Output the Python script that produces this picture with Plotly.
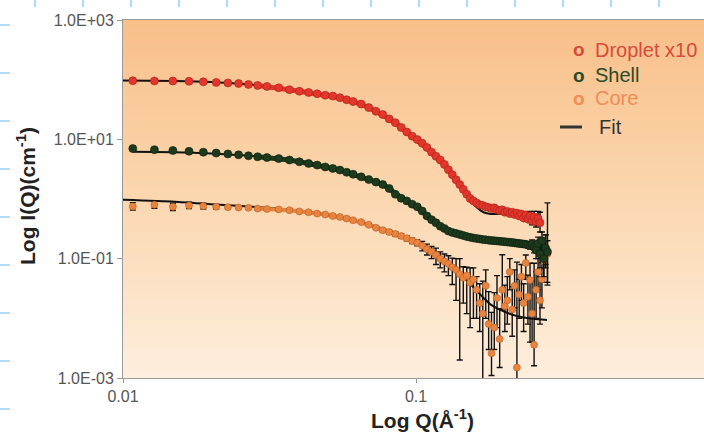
import plotly.graph_objects as go

# ---------------- data ----------------
q = [0.0108, 0.0128, 0.0148, 0.0168, 0.0188, 0.0208, 0.0228, 0.0248, 0.0268, 0.0288,
     0.031, 0.034, 0.037,
     0.040, 0.043, 0.046, 0.049, 0.052, 0.055, 0.058, 0.061,
     0.065, 0.069, 0.073, 0.077, 0.081, 0.085, 0.089, 0.093, 0.097, 0.101,
     0.105, 0.109, 0.113, 0.117, 0.121, 0.125, 0.129, 0.133, 0.137, 0.141,
     0.145, 0.149, 0.153, 0.157, 0.161, 0.165, 0.169, 0.173, 0.177, 0.181,
     0.185, 0.189, 0.193, 0.197, 0.201, 0.205, 0.209, 0.213, 0.217, 0.221,
     0.225, 0.229, 0.233, 0.237, 0.241, 0.245, 0.249, 0.253, 0.257, 0.261,
     0.265, 0.269, 0.273, 0.277, 0.281]

droplet_x10 = [96, 95, 95, 94, 92, 90, 88, 86, 83, 80,
               77, 73, 68,
               64, 61, 58, 55, 53, 50, 46, 43,
               39, 34, 29.5, 26, 22, 19, 15.8, 13.3, 11.3, 9.9,
               8.6, 7.3, 6.1, 5.2, 4.5, 3.8, 3.1, 2.55, 2.1, 1.75,
               1.45, 1.2, 1.02, 0.93, 0.86, 0.80, 0.78, 0.74, 0.72, 0.69,
               0.71, 0.66, 0.64, 0.66, 0.60, 0.62, 0.57, 0.60, 0.55, 0.58,
               0.52, 0.56, 0.48, 0.54, 0.46, 0.52, 0.43, 0.50, 0.42, 0.47,
               0.40, None, None, None, None]

shell = [7.0, 6.7, 6.5, 6.3, 6.1, 5.9, 5.7, 5.5, 5.3, 5.1,
         4.95, 4.75, 4.5,
         4.2, 3.95, 3.7, 3.45, 3.25, 3.05, 2.8, 2.6,
         2.35, 2.12, 1.92, 1.75, 1.5, 1.2, 1.03, 0.93, 0.82, 0.74,
         0.63, 0.52, 0.45, 0.40, 0.35, 0.32, 0.29, 0.275, 0.265, 0.255,
         0.245, 0.235, 0.228, 0.222, 0.218, 0.214, 0.21, 0.207, 0.204, 0.202,
         0.20, 0.198, 0.196, 0.194, 0.192, 0.19, 0.188, 0.186, 0.184, 0.182,
         0.18, 0.178, 0.176, 0.174, 0.17, 0.165, 0.175, 0.155, 0.14, 0.18,
         0.12, 0.2, 0.1, 0.15, 0.13]

core = [0.75, 0.80, 0.74, 0.78, 0.76, 0.74, 0.73, 0.72, 0.71, 0.69,
        0.68, 0.67, 0.65,
        0.62, 0.60, 0.57, 0.55, 0.52, 0.50, 0.47, 0.44,
        0.41, 0.37, 0.33, 0.30, 0.28, 0.26, 0.24, 0.22, 0.20, 0.185,
        0.165, 0.145, 0.13, 0.115, 0.10, 0.09, 0.082, 0.072, 0.065, 0.055,
        0.048, 0.052, 0.04, 0.045, 0.03, 0.018, 0.012, 0.035, 0.008, 0.0026,
        0.007, 0.022, 0.0045, 0.03, 0.016, 0.02, 0.06, 0.014, 0.035, 0.0015,
        0.025, 0.05, 0.018, 0.085, 0.023, 0.044, 0.012, 0.0036, 0.03, 0.06,
        0.02, 0.045, 0.09, 0.15, 0.12]

core_err_plus = [0.12, 0.12, 0.11, 0.10, 0.09, 0.07, 0.05, 0.04, 0.03, 0.03,
                 0.03, 0.03, 0.03,
                 0.02, 0.02, 0.02, 0.02, 0.02, 0.02, 0.02, 0.02,
                 0.02, 0.02, 0.02, 0.02, 0.02, 0.02, 0.02, 0.02, 0.02, 0.02,
                 0.03, 0.03, 0.03, 0.035, 0.03, 0.03, 0.03, 0.03, 0.035, 0.045,
                 0.025, 0.02, 0.03, 0.025, 0.02, 0.02, 0.03, 0.03, 0.02, 0.01,
                 0.02, 0.03, 0.01, 0.086, 0.02, 0.03, 0.04, 0.02, 0.03, 0.086,
                 0.02, 0.03, 0.02, 0.03, 0.03, 0.04, 0.03, 0.08, 0.03, 0.04,
                 0.03, 0.04, 0.05, 0.10, 0.08]

core_err_minus = [0.10, 0.10, 0.10, 0.09, 0.08, 0.06, 0.045, 0.035, 0.03, 0.03,
                  0.03, 0.03, 0.03,
                  0.02, 0.02, 0.02, 0.02, 0.02, 0.02, 0.02, 0.02,
                  0.02, 0.02, 0.02, 0.02, 0.02, 0.02, 0.02, 0.02, 0.02, 0.02,
                  0.03, 0.03, 0.03, 0.035, 0.03, 0.03, 0.03, 0.035, 0.045, 0.053,
                  0.03, 0.04, 0.033, 0.035, 0.02, 0.012, 0.0119, 0.025, 0.005, 0.0015,
                  0.004, 0.015, 0.003, 0.016, 0.01, 0.012, 0.03, 0.009, 0.02, 0.00149,
                  0.015, 0.03, 0.012, 0.04, 0.015, 0.04, 0.008, 0.002, 0.02, 0.03,
                  0.012, 0.03, 0.05, 0.08, 0.08]

shell_err_plus = [0] * 61 + [0.01, 0.01, 0.02, 0.01, 0.02, 0.02, 0.03, 0.03, 0.04, 0.05,
                             0.05, 0.08, 0.06, 0.10, 0.73]
shell_err_minus = [0] * 61 + [0.01, 0.01, 0.02, 0.01, 0.02, 0.02, 0.03, 0.03, 0.04, 0.05,
                              0.05, 0.08, 0.05, 0.07, 0.094]

droplet_err_plus = [0] * 66 + [0.10, 0.08, 0.12, 0.10, 0.15, 0.20, 0, 0, 0, 0]
droplet_err_minus = [0] * 66 + [0.08, 0.06, 0.10, 0.08, 0.10, 0.12, 0, 0, 0, 0]

fit_droplet_q = [0.0099, 0.015, 0.02, 0.03, 0.04, 0.05, 0.06, 0.07, 0.08, 0.09, 0.10,
                 0.11, 0.12, 0.13, 0.14, 0.15, 0.16, 0.17, 0.18, 0.19, 0.20, 0.22, 0.24, 0.26]
fit_droplet = [97, 95, 91, 79, 65, 55, 44, 33, 23, 15.5, 10.3,
               7.0, 4.6, 2.9, 1.8, 1.1, 0.75, 0.6, 0.56, 0.56, 0.57, 0.56, 0.52, 0.47]

fit_shell_q = [0.0108, 0.015, 0.02, 0.03, 0.04, 0.05, 0.06, 0.07, 0.08, 0.09, 0.10,
               0.11, 0.12, 0.13, 0.14, 0.16, 0.18, 0.20, 0.22, 0.25, 0.28]
fit_shell = [6.2, 6.1, 5.8, 5.1, 4.3, 3.45, 2.7, 2.05, 1.55, 1.1, 0.76,
             0.52, 0.37, 0.29, 0.255, 0.22, 0.2, 0.19, 0.185, 0.17, 0.16]

fit_core_q = [0.0099, 0.015, 0.02, 0.03, 0.04, 0.05, 0.06, 0.07, 0.08, 0.09, 0.10,
              0.11, 0.12, 0.13, 0.14, 0.15, 0.16, 0.17, 0.18, 0.20, 0.22, 0.25, 0.28]
fit_core = [0.97, 0.9, 0.82, 0.72, 0.64, 0.54, 0.45, 0.37, 0.30, 0.245, 0.195,
            0.15, 0.11, 0.08, 0.057, 0.042, 0.03, 0.022, 0.017, 0.013, 0.011, 0.0098, 0.0094]

x_tick_vals = [0.01, 0.1]
x_tick_text = ["0.01", "0.1"]
y_tick_vals = [1e3, 1e1, 1e-1, 1e-3]
y_tick_text = ["1.0E+03", "1.0E+01", "1.0E-01", "1.0E-03"]

legend_labels = ["Droplet x10", "Shell", "Core", "Fit"]

# ---------------- style ----------------
W, H = 704, 433
L, R, T, B = 123, 0, 20, 55
PW, PH = W - L - R, H - T - B

RED, GREEN, ORANGE = "#E3352A", "#1D3A1C", "#E8843E"
FONT = "Liberation Sans, Arial, sans-serif"
BAND_START = 9        # from here on the dense points merge into a continuous band
N_SMOOTH_CORE = 41    # core band ends where the points start to scatter


def px(xp):
    return (xp - L) / PW


def py(yp):
    return (H - B - yp) / PH


fig = go.Figure()

err_style = dict(type="data", symmetric=False, color="#111111", thickness=1.4, width=3)

# fits (below markers)
for fq, fv in [(fit_droplet_q, fit_droplet), (fit_shell_q, fit_shell), (fit_core_q, fit_core)]:
    fig.add_trace(go.Scatter(x=fq, y=fv, mode="lines",
                             line=dict(color="#111", width=2, shape="spline", smoothing=0.6),
                             hoverinfo="skip"))

# core
fig.add_trace(go.Scatter(x=q[BAND_START:N_SMOOTH_CORE], y=core[BAND_START:N_SMOOTH_CORE], mode="lines",
                         line=dict(color=ORANGE, width=4), hoverinfo="skip"))
fig.add_trace(go.Scatter(x=q, y=core, mode="markers",
                         marker=dict(color=ORANGE, size=7, line=dict(color="#B9602A", width=0.6)),
                         error_y=dict(array=core_err_plus, arrayminus=core_err_minus, **err_style)))
# shell
fig.add_trace(go.Scatter(x=q[BAND_START:], y=shell[BAND_START:], mode="lines",
                         line=dict(color=GREEN, width=5), hoverinfo="skip"))
fig.add_trace(go.Scatter(x=q, y=shell, mode="markers",
                         marker=dict(color=GREEN, size=8, line=dict(color="#0E1F0E", width=0.6)),
                         error_y=dict(array=shell_err_plus, arrayminus=shell_err_minus, **err_style)))
# droplet x10
fig.add_trace(go.Scatter(x=q[BAND_START:], y=droplet_x10[BAND_START:], mode="lines",
                         line=dict(color=RED, width=5), hoverinfo="skip"))
fig.add_trace(go.Scatter(x=q, y=droplet_x10, mode="markers",
                         marker=dict(color=RED, size=8, line=dict(color="#A5241C", width=0.6)),
                         error_y=dict(array=droplet_err_plus, arrayminus=droplet_err_minus, **err_style)))

# gradient background of the plotting area
shapes = []
top_c = (248, 191, 137)
mid_c = (251, 215, 176)
bot_c = (253, 238, 221)
N = 60
for i in range(N):
    f = i / (N - 1)
    if f < 0.5:
        g = f / 0.5
        c = [round(top_c[k] + (mid_c[k] - top_c[k]) * g) for k in range(3)]
    else:
        g = (f - 0.5) / 0.5
        c = [round(mid_c[k] + (bot_c[k] - mid_c[k]) * g) for k in range(3)]
    shapes.append(dict(type="rect", xref="x domain", yref="y domain", x0=0, x1=1,
                       y0=1 - (i + 1) / N, y1=1 - i / N + 0.002, layer="below",
                       line=dict(width=0), fillcolor="rgb(%d,%d,%d)" % tuple(c)))

# faint blue grid-paper marks on the page
for yy in [25, 73, 121, 169, 217, 265, 313, 361, 409]:
    shapes.append(dict(type="line", xref="paper", yref="paper", x0=px(0), x1=px(10), y0=py(yy), y1=py(yy),
                       line=dict(color="#B3DAF3", width=2)))
for xx in [35, 83, 131, 179, 227, 275, 323, 371, 419, 467, 515, 563, 611, 659]:
    shapes.append(dict(type="line", xref="paper", yref="paper", x0=px(xx), x1=px(xx), y0=py(0), y1=py(7),
                       line=dict(color="#B3DAF3", width=2)))

# legend mark for the fit line
shapes.append(dict(type="line", xref="paper", yref="paper", x0=px(560), x1=px(582), y0=py(127), y1=py(127),
                   line=dict(color="#333333", width=3)))

annotations = [
    dict(text="<b>Log Q(Å<sup>-1</sup>)</b>", x=px(422), y=py(419), xref="paper", yref="paper", showarrow=False,
         xanchor="center", yanchor="middle", font=dict(family=FONT, size=21, color="#222")),
    dict(text="<b>Log I(Q)(cm<sup>-1</sup>)</b>", x=px(26), y=py(196), xref="paper", yref="paper",
         showarrow=False, xanchor="center", yanchor="middle", textangle=-90,
         font=dict(family=FONT, size=21, color="#222")),
]
leg_rows = [(legend_labels[0], "#D84A3A", 50, True),
            (legend_labels[1], "#2C4A28", 75, True),
            (legend_labels[2], "#F08C55", 98, True),
            (legend_labels[3], "#333333", 127, False)]
for lab, col, yy, has_o in leg_rows:
    if has_o:
        annotations.append(dict(text="<b>o</b>", x=px(571), y=py(yy), xref="paper", yref="paper",
                                showarrow=False, xanchor="left", yanchor="middle",
                                font=dict(family=FONT, size=19, color=col)))
    tx = 593 if has_o else 597
    annotations.append(dict(text=lab, x=px(tx), y=py(yy), xref="paper", yref="paper", showarrow=False,
                            xanchor="left", yanchor="middle", font=dict(family=FONT, size=20, color=col)))

fig.update_layout(
    width=W, height=H, margin=dict(l=L, r=R, t=T, b=B),
    paper_bgcolor="white", plot_bgcolor="#FBD8B0", showlegend=False,
    font=dict(family=FONT),
    shapes=shapes, annotations=annotations,
    xaxis=dict(type="log", range=[-2, -2 + PW / 293.0], tickvals=x_tick_vals, ticktext=x_tick_text,
               ticks="outside", ticklen=4, tickcolor="#999", showline=True, linecolor="#9a9a9a", linewidth=1,
               mirror=True, showgrid=False, zeroline=False,
               tickfont=dict(family=FONT, size=16, color="#555")),
    yaxis=dict(type="log", range=[-3, 3], tickvals=y_tick_vals, ticktext=y_tick_text,
               ticks="outside", ticklen=5, tickcolor="#999", showline=True, linecolor="#9a9a9a", linewidth=1,
               mirror=False, showgrid=False, zeroline=False,
               tickfont=dict(family=FONT, size=16, color="#555")),
)

fig.write_html("out.html")
